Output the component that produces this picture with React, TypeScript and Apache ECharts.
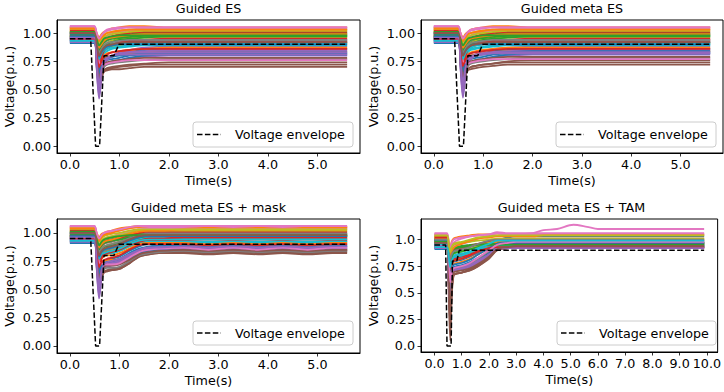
import React, { useEffect, useRef } from 'react';
import * as echarts from 'echarts';

// ---------- Data ----------
const PANEL_TITLES = ['Guided ES', 'Guided meta ES', 'Guided meta ES + mask', 'Guided meta ES + TAM'];
const X_TICKS_SHORT = [0, 1, 2, 3, 4, 5];
const X_TICKS_LONG = [0, 1, 2, 3, 4, 5, 6, 7, 8, 9, 10];
const Y_TICKS = [0, 0.25, 0.5, 0.75, 1.0];
const Y_LABELS_A = ['0.00', '0.25', '0.50', '0.75', '1.00'];
const Y_LABELS_B = ['0.0', '0.25', '0.5', '0.75', '1.0'];

const ENV_T = [0, 0.42, 0.52, 0.6, 0.69, 0.89, 0.99, 5.6];
const ENV_V = [0.95, 0.95, 0, 0, 0.8, 0.8, 0.9, 0.9];
const ENV_T4 = [0, 0.41, 0.46, 0.61, 0.66, 0.82, 0.91, 9.9];
const ENV_V4 = [0.95, 0.95, 0, 0, 0.8, 0.8, 0.9, 0.9];

const T1 = [0, 0.49, 0.54, 0.59, 0.64, 0.69, 0.75, 0.85, 1.0, 1.2, 1.5, 2.0, 3.0, 4.0, 5.6];
const ES_GUIDED = [
  [0.93,0.93,0.80,0.62,0.70,0.74,0.76,0.77,0.78,0.80,0.81,0.82,0.82,0.82,0.82],
  [1.05,1.05,1.00,0.96,0.99,1.01,1.02,1.04,1.05,1.06,1.06,1.05,1.05,1.05,1.05],
  [0.97,0.97,0.90,0.82,0.86,0.89,0.91,0.93,0.95,0.96,0.97,0.97,0.97,0.97,0.97],
  [0.96,0.96,0.86,0.74,0.80,0.84,0.86,0.89,0.91,0.92,0.93,0.94,0.94,0.94,0.94],
  [0.95,0.95,0.70,0.42,0.60,0.72,0.77,0.80,0.83,0.85,0.87,0.88,0.88,0.88,0.88],
  [0.92,0.92,0.75,0.50,0.60,0.66,0.67,0.68,0.68,0.69,0.70,0.70,0.70,0.70,0.70],
  [1.04,1.04,0.97,0.90,0.93,0.96,0.98,1.00,1.02,1.03,1.04,1.04,1.04,1.04,1.04],
  [0.99,0.99,0.92,0.85,0.88,0.91,0.93,0.95,0.97,0.98,0.99,0.99,0.99,0.99,0.99],
  [0.98,0.98,0.88,0.78,0.82,0.85,0.87,0.88,0.89,0.90,0.91,0.91,0.91,0.91,0.91],
  [0.94,0.94,0.85,0.75,0.79,0.82,0.84,0.86,0.87,0.88,0.89,0.89,0.89,0.89,0.89],
  [1.00,1.00,0.85,0.68,0.74,0.77,0.79,0.80,0.81,0.83,0.85,0.86,0.86,0.86,0.86],
  [0.97,0.97,0.84,0.70,0.75,0.78,0.79,0.80,0.81,0.82,0.83,0.84,0.84,0.84,0.84],
  [1.01,1.01,0.95,0.88,0.91,0.94,0.96,0.97,0.98,0.99,1.00,1.00,1.00,1.00,1.00],
  [0.99,0.99,0.93,0.86,0.90,0.93,0.95,0.97,0.99,1.00,1.01,1.01,1.01,1.01,1.01],
  [0.93,0.93,0.72,0.48,0.62,0.70,0.73,0.75,0.76,0.78,0.79,0.80,0.80,0.80,0.80],
  [0.96,0.96,0.75,0.52,0.62,0.66,0.68,0.69,0.70,0.71,0.72,0.72,0.72,0.72,0.72],
  [1.06,1.06,1.00,0.94,0.97,1.00,1.02,1.03,1.04,1.05,1.05,1.05,1.05,1.05,1.05],
  [0.95,0.95,0.87,0.78,0.82,0.86,0.88,0.90,0.91,0.92,0.93,0.93,0.93,0.93,0.93],
  [1.02,1.02,0.92,0.82,0.86,0.89,0.91,0.93,0.94,0.95,0.96,0.96,0.96,0.96,0.96],
  [0.97,0.97,0.86,0.76,0.80,0.84,0.86,0.87,0.88,0.89,0.90,0.90,0.90,0.90,0.90],
  [0.91,0.91,0.78,0.62,0.70,0.72,0.73,0.75,0.76,0.78,0.80,0.81,0.81,0.81,0.81],
  [1.03,1.03,0.88,0.72,0.77,0.80,0.82,0.83,0.84,0.85,0.86,0.87,0.87,0.87,0.87],
  [1.00,1.00,0.93,0.85,0.89,0.92,0.94,0.95,0.96,0.97,0.98,0.98,0.98,0.98,0.98],
  [0.98,0.98,0.84,0.67,0.78,0.85,0.88,0.90,0.92,0.93,0.94,0.95,0.95,0.95,0.95],
  [0.92,0.92,0.70,0.45,0.63,0.72,0.76,0.79,0.81,0.83,0.84,0.85,0.85,0.85,0.85],
  [0.94,0.94,0.74,0.55,0.63,0.67,0.69,0.70,0.71,0.72,0.73,0.74,0.74,0.74,0.74],
  [1.05,1.05,0.96,0.88,0.92,0.95,0.97,0.99,1.01,1.02,1.03,1.03,1.03,1.03,1.03],
  [0.96,0.96,0.78,0.58,0.66,0.70,0.72,0.73,0.74,0.75,0.76,0.77,0.77,0.77,0.77],
  [1.03,1.03,0.96,0.89,0.93,0.96,0.98,0.99,1.00,1.01,1.02,1.02,1.02,1.02,1.02],
  [0.95,0.95,0.87,0.80,0.83,0.86,0.88,0.90,0.91,0.91,0.92,0.92,0.92,0.92,0.92],
  [0.99,0.99,0.83,0.66,0.72,0.76,0.78,0.79,0.80,0.81,0.82,0.83,0.83,0.83,0.83],
  [1.01,1.01,0.94,0.87,0.90,0.93,0.95,0.96,0.97,0.98,0.99,0.99,0.99,0.99,0.99],
  [0.98,0.98,0.90,0.81,0.85,0.88,0.90,0.92,0.94,0.95,0.96,0.97,0.97,0.97,0.97],
  [1.02,1.02,0.90,0.76,0.81,0.85,0.87,0.89,0.91,0.92,0.92,0.92,0.92,0.92,0.92],
  [0.94,0.94,0.74,0.52,0.66,0.74,0.78,0.80,0.82,0.83,0.83,0.83,0.83,0.83,0.83],
  [0.97,0.97,0.80,0.60,0.68,0.72,0.74,0.75,0.76,0.77,0.78,0.78,0.78,0.78,0.78],
  [1.05,1.05,0.90,0.74,0.73,0.72,0.73,0.74,0.75,0.76,0.76,0.76,0.76,0.76,0.76],
  [1.00,1.00,0.91,0.82,0.86,0.89,0.91,0.92,0.93,0.94,0.94,0.94,0.94,0.94,0.94],
  [1.04,1.04,0.98,0.92,0.95,0.98,1.00,1.01,1.02,1.03,1.03,1.03,1.03,1.03,1.03],
  [0.93,0.93,0.85,0.77,0.82,0.85,0.87,0.89,0.90,0.91,0.91,0.91,0.91,0.91,0.91],
  [0.97,0.97,0.88,0.79,0.83,0.86,0.88,0.89,0.90,0.90,0.90,0.90,0.90,0.90,0.90],
  [1.04,1.04,0.98,0.93,0.96,0.98,1.00,1.01,1.02,1.03,1.03,1.03,1.03,1.03,1.03],
  [1.01,1.01,0.95,0.89,0.92,0.95,0.96,0.97,0.98,0.98,0.98,0.98,0.98,0.98,0.98],
  [0.95,0.95,0.83,0.70,0.75,0.79,0.81,0.83,0.84,0.85,0.86,0.86,0.86,0.86,0.86],
  [0.96,0.96,0.76,0.55,0.68,0.75,0.78,0.80,0.81,0.81,0.81,0.81,0.81,0.81,0.81],
  [1.00,1.00,0.90,0.80,0.84,0.87,0.89,0.90,0.91,0.92,0.92,0.92,0.92,0.92,0.92],
  [1.06,1.06,1.00,0.95,0.98,1.01,1.03,1.04,1.05,1.05,1.05,1.05,1.05,1.05,1.05],
];

const ES_META = [
  [0.93,0.93,0.80,0.63,0.71,0.75,0.77,0.78,0.79,0.81,0.82,0.83,0.83,0.83,0.83],
  [1.05,1.05,1.00,0.96,0.99,1.01,1.03,1.04,1.05,1.06,1.06,1.05,1.05,1.05,1.05],
  [0.97,0.97,0.90,0.83,0.87,0.90,0.92,0.94,0.95,0.96,0.97,0.97,0.97,0.97,0.97],
  [0.96,0.96,0.86,0.75,0.81,0.85,0.87,0.89,0.91,0.92,0.93,0.94,0.94,0.94,0.94],
  [0.95,0.95,0.70,0.43,0.61,0.73,0.78,0.81,0.84,0.86,0.87,0.88,0.88,0.88,0.88],
  [0.92,0.92,0.75,0.52,0.62,0.67,0.68,0.69,0.70,0.71,0.72,0.72,0.72,0.72,0.72],
  [1.04,1.04,0.97,0.90,0.93,0.96,0.98,1.00,1.02,1.03,1.04,1.04,1.04,1.04,1.04],
  [0.99,0.99,0.92,0.85,0.88,0.91,0.93,0.95,0.97,0.98,0.99,0.99,0.99,0.99,0.99],
  [0.98,0.98,0.88,0.79,0.83,0.86,0.88,0.89,0.90,0.91,0.91,0.91,0.91,0.91,0.91],
  [0.94,0.94,0.85,0.76,0.80,0.83,0.85,0.86,0.87,0.88,0.89,0.89,0.89,0.89,0.89],
  [1.00,1.00,0.85,0.69,0.75,0.78,0.80,0.81,0.82,0.84,0.85,0.86,0.86,0.86,0.86],
  [0.97,0.97,0.84,0.71,0.76,0.79,0.80,0.81,0.82,0.83,0.84,0.84,0.84,0.84,0.84],
  [1.01,1.01,0.95,0.88,0.91,0.94,0.96,0.97,0.98,0.99,1.00,1.00,1.00,1.00,1.00],
  [0.99,0.99,0.93,0.86,0.90,0.93,0.95,0.97,0.99,1.00,1.01,1.01,1.01,1.01,1.01],
  [0.93,0.93,0.72,0.49,0.63,0.71,0.74,0.76,0.77,0.79,0.80,0.81,0.81,0.81,0.81],
  [0.96,0.96,0.76,0.54,0.63,0.68,0.70,0.71,0.72,0.73,0.74,0.74,0.74,0.74,0.74],
  [1.06,1.06,1.00,0.94,0.97,1.00,1.02,1.03,1.04,1.05,1.05,1.05,1.05,1.05,1.05],
  [0.95,0.95,0.87,0.79,0.83,0.87,0.89,0.91,0.92,0.93,0.93,0.93,0.93,0.93,0.93],
  [1.02,1.02,0.92,0.82,0.86,0.89,0.91,0.93,0.94,0.95,0.96,0.96,0.96,0.96,0.96],
  [0.97,0.97,0.86,0.77,0.81,0.84,0.86,0.87,0.88,0.89,0.90,0.90,0.90,0.90,0.90],
  [0.91,0.91,0.78,0.63,0.71,0.73,0.74,0.76,0.77,0.79,0.81,0.82,0.82,0.82,0.82],
  [1.03,1.03,0.88,0.73,0.78,0.81,0.83,0.84,0.85,0.86,0.87,0.87,0.87,0.87,0.87],
  [1.00,1.00,0.93,0.85,0.89,0.92,0.94,0.95,0.96,0.97,0.98,0.98,0.98,0.98,0.98],
  [0.98,0.98,0.84,0.68,0.79,0.86,0.89,0.91,0.92,0.93,0.94,0.95,0.95,0.95,0.95],
  [0.92,0.92,0.70,0.46,0.64,0.73,0.77,0.80,0.82,0.83,0.84,0.85,0.85,0.85,0.85],
  [0.94,0.94,0.74,0.56,0.64,0.68,0.70,0.71,0.72,0.73,0.75,0.76,0.76,0.76,0.76],
  [1.05,1.05,0.96,0.88,0.92,0.95,0.97,0.99,1.01,1.02,1.03,1.03,1.03,1.03,1.03],
  [0.96,0.96,0.78,0.59,0.67,0.71,0.73,0.74,0.75,0.76,0.77,0.78,0.78,0.78,0.78],
  [1.03,1.03,0.96,0.89,0.93,0.96,0.98,0.99,1.00,1.01,1.02,1.02,1.02,1.02,1.02],
  [0.95,0.95,0.87,0.80,0.83,0.86,0.88,0.90,0.91,0.91,0.92,0.92,0.92,0.92,0.92],
  [0.99,0.99,0.83,0.67,0.73,0.77,0.79,0.80,0.81,0.82,0.83,0.84,0.84,0.84,0.84],
  [1.01,1.01,0.94,0.87,0.90,0.93,0.95,0.96,0.97,0.98,0.99,0.99,0.99,0.99,0.99],
  [0.98,0.98,0.90,0.81,0.85,0.88,0.90,0.92,0.94,0.95,0.96,0.97,0.97,0.97,0.97],
  [1.02,1.02,0.90,0.77,0.82,0.86,0.88,0.90,0.91,0.92,0.92,0.92,0.92,0.92,0.92],
  [0.94,0.94,0.74,0.53,0.67,0.75,0.79,0.81,0.82,0.83,0.83,0.83,0.83,0.83,0.83],
  [0.97,0.97,0.80,0.61,0.69,0.73,0.75,0.76,0.77,0.78,0.79,0.79,0.79,0.79,0.79],
  [1.05,1.05,0.90,0.75,0.74,0.73,0.74,0.75,0.76,0.77,0.77,0.77,0.77,0.77,0.77],
  [1.00,1.00,0.91,0.82,0.86,0.89,0.91,0.92,0.93,0.94,0.94,0.94,0.94,0.94,0.94],
  [1.04,1.04,0.98,0.92,0.95,0.98,1.00,1.01,1.02,1.03,1.03,1.03,1.03,1.03,1.03],
  [0.93,0.93,0.85,0.77,0.82,0.85,0.87,0.89,0.90,0.91,0.91,0.91,0.91,0.91,0.91],
  [0.97,0.97,0.88,0.80,0.84,0.87,0.89,0.90,0.90,0.90,0.90,0.90,0.90,0.90,0.90],
  [1.04,1.04,0.98,0.93,0.96,0.99,1.00,1.01,1.02,1.03,1.03,1.03,1.03,1.03,1.03],
  [1.01,1.01,0.95,0.89,0.92,0.95,0.96,0.97,0.98,0.98,0.98,0.98,0.98,0.98,0.98],
  [0.95,0.95,0.83,0.71,0.76,0.80,0.82,0.83,0.84,0.85,0.86,0.86,0.86,0.86,0.86],
  [0.96,0.96,0.76,0.56,0.69,0.76,0.79,0.80,0.81,0.82,0.82,0.82,0.82,0.82,0.82],
  [1.00,1.00,0.90,0.80,0.84,0.87,0.89,0.90,0.91,0.92,0.92,0.92,0.92,0.92,0.92],
  [1.06,1.06,1.00,0.95,0.98,1.01,1.03,1.04,1.05,1.05,1.05,1.05,1.05,1.05,1.05],
];

const T3 = [0, 0.49, 0.54, 0.59, 0.64, 0.69, 0.75, 0.85, 1.0, 1.2, 1.4, 1.6, 1.8, 2.3, 2.8, 3.3, 3.8, 4.3, 4.8, 5.3, 5.6];
const ES_MASK = [
  [0.93,0.93,0.80,0.62,0.70,0.73,0.74,0.74,0.75,0.79,0.84,0.86,0.87,0.88,0.87,0.88,0.87,0.88,0.87,0.88,0.88],
  [1.05,1.05,1.00,0.96,0.99,1.00,1.01,1.02,1.04,1.05,1.06,1.06,1.06,1.06,1.06,1.06,1.06,1.06,1.05,1.05,1.05],
  [0.97,0.97,0.90,0.82,0.86,0.88,0.89,0.90,0.92,0.95,0.97,0.98,0.98,0.98,0.98,0.98,0.98,0.98,0.98,0.98,0.98],
  [0.96,0.96,0.86,0.74,0.79,0.81,0.82,0.83,0.85,0.89,0.92,0.93,0.93,0.93,0.92,0.93,0.92,0.93,0.92,0.93,0.93],
  [0.95,0.95,0.70,0.42,0.60,0.70,0.73,0.74,0.75,0.79,0.84,0.86,0.87,0.87,0.86,0.87,0.86,0.87,0.86,0.87,0.87],
  [0.92,0.92,0.75,0.50,0.60,0.65,0.66,0.67,0.68,0.73,0.79,0.81,0.82,0.83,0.82,0.83,0.82,0.83,0.82,0.83,0.83],
  [1.04,1.04,0.97,0.90,0.93,0.95,0.96,0.97,0.99,1.01,1.03,1.04,1.04,1.04,1.04,1.04,1.04,1.04,1.04,1.04,1.04],
  [0.99,0.99,0.92,0.85,0.88,0.90,0.91,0.92,0.94,0.97,0.99,1.00,1.00,1.00,1.00,1.00,1.00,1.00,1.00,1.00,1.00],
  [0.98,0.98,0.88,0.78,0.82,0.83,0.84,0.85,0.87,0.91,0.94,0.95,0.95,0.95,0.95,0.95,0.95,0.95,0.95,0.95,0.95],
  [0.94,0.94,0.85,0.75,0.79,0.80,0.81,0.82,0.84,0.88,0.91,0.92,0.92,0.92,0.91,0.92,0.91,0.92,0.91,0.92,0.92],
  [1.00,1.00,0.85,0.68,0.73,0.75,0.76,0.77,0.79,0.84,0.88,0.90,0.90,0.90,0.89,0.90,0.89,0.90,0.89,0.90,0.90],
  [0.97,0.97,0.84,0.70,0.74,0.75,0.76,0.76,0.77,0.81,0.84,0.85,0.85,0.85,0.83,0.85,0.83,0.85,0.83,0.85,0.85],
  [1.01,1.01,0.95,0.88,0.91,0.93,0.94,0.95,0.96,0.98,0.99,0.99,0.99,0.99,0.99,0.99,0.99,0.99,0.99,0.99,0.99],
  [0.99,0.99,0.93,0.86,0.89,0.91,0.92,0.93,0.95,0.98,1.00,1.01,1.01,1.01,1.01,1.01,1.01,1.01,1.01,1.01,1.01],
  [0.93,0.93,0.72,0.48,0.62,0.68,0.70,0.71,0.72,0.77,0.82,0.84,0.85,0.85,0.84,0.85,0.84,0.85,0.84,0.85,0.85],
  [0.96,0.96,0.75,0.52,0.62,0.66,0.67,0.68,0.69,0.74,0.80,0.82,0.83,0.84,0.83,0.84,0.83,0.84,0.83,0.84,0.84],
  [1.06,1.06,1.00,0.94,0.97,0.99,1.00,1.01,1.02,1.04,1.05,1.05,1.05,1.05,1.05,1.05,1.05,1.05,1.05,1.05,1.05],
  [0.95,0.95,0.87,0.78,0.82,0.84,0.85,0.86,0.88,0.92,0.94,0.95,0.95,0.95,0.95,0.95,0.95,0.95,0.95,0.95,0.95],
  [1.02,1.02,0.92,0.82,0.86,0.88,0.89,0.90,0.92,0.95,0.97,0.97,0.97,0.97,0.97,0.97,0.97,0.97,0.97,0.97,0.97],
  [0.97,0.97,0.86,0.76,0.80,0.81,0.82,0.82,0.84,0.88,0.91,0.92,0.92,0.92,0.92,0.92,0.92,0.92,0.92,0.92,0.92],
  [0.91,0.91,0.78,0.62,0.69,0.71,0.72,0.72,0.73,0.77,0.82,0.84,0.85,0.86,0.85,0.86,0.85,0.86,0.85,0.86,0.86],
  [1.03,1.03,0.88,0.72,0.77,0.79,0.80,0.80,0.82,0.86,0.90,0.91,0.91,0.91,0.90,0.91,0.90,0.91,0.90,0.91,0.91],
  [1.00,1.00,0.93,0.85,0.89,0.91,0.92,0.93,0.94,0.96,0.97,0.97,0.97,0.97,0.97,0.97,0.97,0.97,0.97,0.97,0.97],
  [0.98,0.98,0.84,0.67,0.77,0.81,0.82,0.83,0.85,0.89,0.92,0.94,0.94,0.94,0.94,0.94,0.94,0.94,0.94,0.94,0.94],
  [0.92,0.92,0.70,0.45,0.62,0.70,0.73,0.74,0.76,0.80,0.85,0.87,0.88,0.88,0.87,0.88,0.87,0.88,0.87,0.88,0.88],
  [0.94,0.94,0.74,0.55,0.62,0.65,0.66,0.67,0.68,0.73,0.79,0.81,0.82,0.82,0.81,0.82,0.81,0.82,0.81,0.82,0.82],
  [1.05,1.05,0.96,0.88,0.92,0.94,0.95,0.96,0.98,1.01,1.03,1.04,1.04,1.04,1.04,1.04,1.04,1.04,1.04,1.04,1.04],
  [0.96,0.96,0.78,0.58,0.65,0.68,0.69,0.69,0.70,0.75,0.80,0.82,0.83,0.84,0.83,0.84,0.83,0.84,0.83,0.84,0.84],
  [1.03,1.03,0.96,0.89,0.93,0.95,0.96,0.97,0.98,1.00,1.02,1.02,1.02,1.02,1.02,1.02,1.02,1.02,1.02,1.02,1.02],
  [0.95,0.95,0.87,0.80,0.83,0.85,0.86,0.87,0.89,0.92,0.95,0.96,0.96,0.96,0.96,0.96,0.96,0.96,0.96,0.96,0.96],
  [0.99,0.99,0.83,0.66,0.71,0.73,0.74,0.75,0.77,0.82,0.86,0.88,0.89,0.89,0.88,0.89,0.88,0.89,0.88,0.89,0.89],
  [1.01,1.01,0.94,0.87,0.90,0.92,0.93,0.94,0.96,0.99,1.01,1.02,1.02,1.03,1.03,1.03,1.03,1.03,1.03,1.03,1.03],
  [0.98,0.98,0.90,0.81,0.85,0.87,0.88,0.89,0.91,0.94,0.96,0.97,0.97,0.97,0.97,0.97,0.97,0.97,0.97,0.97,0.97],
  [1.02,1.02,0.90,0.76,0.80,0.82,0.83,0.84,0.86,0.90,0.93,0.95,0.95,0.96,0.96,0.96,0.96,0.96,0.96,0.96,0.96],
  [0.94,0.94,0.74,0.52,0.65,0.70,0.72,0.73,0.74,0.79,0.84,0.86,0.86,0.86,0.85,0.86,0.85,0.86,0.85,0.86,0.86],
  [0.97,0.97,0.80,0.60,0.67,0.70,0.71,0.71,0.72,0.76,0.81,0.83,0.84,0.85,0.84,0.85,0.84,0.85,0.84,0.85,0.85],
  [1.05,1.05,0.90,0.74,0.73,0.72,0.72,0.72,0.73,0.78,0.83,0.85,0.86,0.87,0.85,0.87,0.85,0.87,0.85,0.87,0.87],
  [1.00,1.00,0.91,0.82,0.86,0.88,0.89,0.90,0.92,0.95,0.98,0.99,0.99,0.99,0.99,0.99,0.99,0.99,0.99,0.99,0.99],
  [1.04,1.04,0.98,0.92,0.95,0.97,0.98,0.99,1.00,1.02,1.03,1.03,1.03,1.03,1.03,1.03,1.03,1.03,1.03,1.03,1.03],
  [0.93,0.93,0.85,0.77,0.81,0.82,0.83,0.84,0.86,0.90,0.93,0.94,0.94,0.94,0.94,0.94,0.94,0.94,0.94,0.94,0.94],
  [0.97,0.97,0.88,0.79,0.83,0.85,0.86,0.87,0.89,0.93,0.96,0.97,0.97,0.97,0.97,0.97,0.97,0.97,0.97,0.97,0.97],
  [1.04,1.04,0.98,0.93,0.96,0.98,0.99,1.00,1.02,1.04,1.05,1.06,1.06,1.06,1.05,1.06,1.05,1.06,1.05,1.05,1.05],
  [1.01,1.01,0.95,0.89,0.92,0.94,0.95,0.96,0.97,0.98,0.98,0.98,0.98,0.98,0.98,0.98,0.98,0.98,0.98,0.98,0.98],
  [0.95,0.95,0.83,0.70,0.74,0.76,0.77,0.78,0.80,0.85,0.89,0.90,0.90,0.90,0.89,0.90,0.89,0.90,0.89,0.90,0.90],
  [0.96,0.96,0.76,0.55,0.67,0.72,0.74,0.75,0.77,0.81,0.85,0.87,0.87,0.88,0.87,0.88,0.87,0.88,0.87,0.88,0.88],
  [1.00,1.00,0.90,0.80,0.84,0.86,0.87,0.88,0.90,0.94,0.97,0.98,0.98,0.98,0.98,0.98,0.98,0.98,0.98,0.98,0.98],
  [1.06,1.06,1.00,0.95,0.98,1.00,1.01,1.02,1.03,1.05,1.06,1.06,1.06,1.06,1.06,1.06,1.06,1.06,1.06,1.06,1.06],
];

const T4 = [0, 0.45, 0.52, 0.58, 0.63, 0.7, 0.8, 1.0, 1.3, 1.6, 2.0, 2.3, 2.7, 3.0, 3.6, 4.0, 4.5, 5.1, 5.6, 6.0, 7.0, 8.0, 9.0, 9.9];
const ES_TAM = [
  [0.93,0.93,0.80,0.55,0.70,0.74,0.75,0.76,0.79,0.83,0.89,0.93,0.94,0.94,0.94,0.94,0.94,0.94,0.94,0.94,0.94,0.94,0.94,0.94],
  [1.05,1.05,0.98,0.92,0.98,1.01,1.02,1.03,1.04,1.05,1.05,1.06,1.05,1.05,1.05,1.05,1.05,1.05,1.05,1.05,1.05,1.05,1.05,1.05],
  [0.97,0.97,0.88,0.78,0.84,0.87,0.88,0.89,0.91,0.93,0.95,0.96,0.96,0.96,0.96,0.96,0.96,0.96,0.96,0.96,0.96,0.96,0.96,0.96],
  [0.96,0.96,0.85,0.70,0.78,0.81,0.82,0.83,0.85,0.88,0.91,0.93,0.93,0.93,0.93,0.93,0.93,0.93,0.93,0.93,0.93,0.93,0.93,0.93],
  [0.95,0.95,0.60,0.20,0.55,0.70,0.72,0.73,0.76,0.80,0.87,0.92,0.93,0.93,0.93,0.93,0.93,0.93,0.93,0.93,0.93,0.93,0.93,0.93],
  [0.92,0.92,0.50,0.05,0.45,0.66,0.68,0.69,0.72,0.76,0.84,0.91,0.92,0.92,0.92,0.92,0.92,0.92,0.92,0.92,0.92,0.92,0.92,0.92],
  [1.04,1.04,0.96,0.88,0.94,0.97,0.99,1.01,1.03,1.04,1.05,1.06,1.05,1.05,1.06,1.09,1.10,1.14,1.12,1.10,1.10,1.10,1.10,1.10],
  [0.99,0.99,0.90,0.80,0.86,0.89,0.90,0.91,0.93,0.95,0.97,0.98,0.98,0.98,0.98,0.98,0.98,0.98,0.98,0.98,0.98,0.98,0.98,0.98],
  [0.98,0.98,0.87,0.74,0.80,0.83,0.84,0.85,0.87,0.90,0.94,0.96,0.97,0.97,0.97,0.97,0.97,0.97,0.97,0.97,0.97,0.97,0.97,0.97],
  [0.94,0.94,0.84,0.72,0.78,0.81,0.82,0.83,0.86,0.90,0.94,0.97,0.98,0.98,0.98,0.98,0.98,0.98,0.98,0.98,0.98,0.98,0.98,0.98],
  [1.00,1.00,0.86,0.68,0.76,0.79,0.80,0.81,0.84,0.88,0.94,0.99,1.02,1.03,1.03,1.03,1.03,1.03,1.03,1.03,1.03,1.03,1.03,1.03],
  [0.97,0.97,0.84,0.66,0.74,0.77,0.78,0.79,0.82,0.86,0.92,0.95,0.96,0.96,0.96,0.96,0.96,0.96,0.96,0.96,0.96,0.96,0.96,0.96],
  [1.01,1.01,0.93,0.84,0.89,0.92,0.93,0.94,0.95,0.96,0.97,0.97,0.97,0.97,0.97,0.97,0.97,0.97,0.97,0.97,0.97,0.97,0.97,0.97],
  [0.99,0.99,0.91,0.82,0.87,0.90,0.91,0.92,0.94,0.96,0.98,0.99,0.99,0.99,0.99,0.99,0.99,0.99,0.99,0.99,0.99,0.99,0.99,0.99],
  [0.93,0.93,0.62,0.30,0.58,0.70,0.71,0.72,0.74,0.78,0.85,0.91,0.92,0.92,0.92,0.92,0.92,0.92,0.92,0.92,0.92,0.92,0.92,0.92],
  [0.96,0.96,0.60,0.15,0.50,0.67,0.68,0.69,0.71,0.75,0.83,0.90,0.92,0.93,0.93,0.93,0.93,0.93,0.93,0.93,0.93,0.93,0.93,0.93],
  [1.06,1.06,0.99,0.92,0.97,1.00,1.01,1.02,1.03,1.04,1.05,1.07,1.06,1.06,1.06,1.06,1.06,1.06,1.06,1.06,1.06,1.06,1.06,1.06],
  [0.95,0.95,0.86,0.75,0.81,0.84,0.85,0.86,0.88,0.91,0.94,0.95,0.95,0.95,0.95,0.95,0.95,0.95,0.95,0.95,0.95,0.95,0.95,0.95],
  [1.02,1.02,0.91,0.78,0.84,0.87,0.88,0.89,0.91,0.94,0.97,0.99,1.00,1.00,1.00,1.00,1.00,1.00,1.00,1.00,1.00,1.00,1.00,1.00],
  [0.97,0.97,0.86,0.73,0.79,0.82,0.83,0.84,0.86,0.90,0.94,0.96,0.97,0.97,0.97,0.97,0.97,0.97,0.97,0.97,0.97,0.97,0.97,0.97],
  [0.91,0.91,0.78,0.58,0.70,0.73,0.74,0.75,0.78,0.82,0.88,0.93,0.95,0.95,0.95,0.95,0.95,0.95,0.95,0.95,0.95,0.95,0.95,0.95],
  [1.03,1.03,0.88,0.70,0.77,0.80,0.81,0.82,0.85,0.89,0.94,0.98,1.00,1.01,1.01,1.01,1.01,1.01,1.01,1.01,1.01,1.01,1.01,1.01],
  [1.00,1.00,0.92,0.82,0.88,0.91,0.92,0.93,0.94,0.95,0.96,0.96,0.96,0.96,0.96,0.96,0.96,0.96,0.96,0.96,0.96,0.96,0.96,0.96],
  [0.98,0.98,0.84,0.64,0.76,0.80,0.81,0.82,0.85,0.89,0.93,0.96,0.97,0.97,0.97,0.97,0.97,0.97,0.97,0.97,0.97,0.97,0.97,0.97],
  [0.92,0.92,0.64,0.35,0.60,0.71,0.72,0.73,0.75,0.79,0.86,0.92,0.94,0.94,0.94,0.94,0.94,0.94,0.94,0.94,0.94,0.94,0.94,0.94],
  [0.94,0.94,0.62,0.25,0.52,0.67,0.68,0.69,0.71,0.75,0.82,0.90,0.93,0.93,0.93,0.93,0.93,0.93,0.93,0.93,0.93,0.93,0.93,0.93],
  [1.05,1.05,0.95,0.85,0.91,0.94,0.95,0.96,0.98,1.01,1.04,1.06,1.05,1.05,1.05,1.05,1.05,1.05,1.05,1.05,1.05,1.05,1.05,1.05],
  [0.96,0.96,0.80,0.55,0.68,0.72,0.73,0.74,0.77,0.82,0.89,0.94,0.95,0.95,0.95,0.95,0.95,0.95,0.95,0.95,0.95,0.95,0.95,0.95],
  [1.03,1.03,0.95,0.86,0.92,0.95,0.96,0.97,0.98,0.99,1.00,1.01,1.01,1.01,1.01,1.01,1.01,1.01,1.01,1.01,1.01,1.01,1.01,1.01],
  [0.95,0.95,0.86,0.76,0.82,0.85,0.86,0.87,0.89,0.91,0.93,0.94,0.94,0.94,0.94,0.94,0.94,0.94,0.94,0.94,0.94,0.94,0.94,0.94],
  [0.99,0.99,0.83,0.62,0.72,0.76,0.77,0.78,0.81,0.86,0.92,0.96,0.97,0.97,0.97,0.97,0.97,0.97,0.97,0.97,0.97,0.97,0.97,0.97],
  [1.01,1.01,0.93,0.84,0.89,0.92,0.94,0.96,0.99,1.01,1.02,1.03,1.03,1.03,1.03,1.04,1.04,1.04,1.04,1.04,1.04,1.04,1.04,1.04],
  [0.98,0.98,0.89,0.78,0.84,0.87,0.88,0.89,0.91,0.93,0.95,0.95,0.95,0.95,0.95,0.95,0.95,0.95,0.95,0.95,0.95,0.95,0.95,0.95],
  [1.02,1.02,0.89,0.72,0.79,0.82,0.83,0.84,0.86,0.89,0.92,0.93,0.93,0.93,0.93,0.93,0.93,0.93,0.93,0.93,0.93,0.93,0.93,0.93],
  [0.94,0.94,0.66,0.40,0.62,0.71,0.72,0.73,0.76,0.80,0.86,0.91,0.92,0.92,0.92,0.92,0.92,0.92,0.92,0.92,0.92,0.92,0.92,0.92],
  [0.97,0.97,0.70,0.30,0.56,0.69,0.70,0.71,0.73,0.77,0.84,0.91,0.93,0.94,0.94,0.94,0.94,0.94,0.94,0.94,0.94,0.94,0.94,0.94],
  [1.05,1.05,0.88,0.60,0.70,0.73,0.74,0.75,0.78,0.83,0.90,0.95,0.97,0.98,0.98,0.98,0.98,0.98,0.98,0.98,0.98,0.98,0.98,0.98],
  [1.00,1.00,0.91,0.80,0.86,0.89,0.90,0.91,0.93,0.96,0.99,1.00,1.00,1.00,1.00,1.00,1.00,1.00,1.00,1.00,1.00,1.00,1.00,1.00],
  [1.04,1.04,0.96,0.88,0.93,0.96,0.97,0.98,1.00,1.02,1.03,1.04,1.04,1.04,1.04,1.04,1.04,1.04,1.04,1.04,1.04,1.04,1.04,1.04],
  [0.93,0.93,0.84,0.74,0.80,0.83,0.84,0.85,0.88,0.92,0.96,0.99,0.99,0.99,0.99,0.99,0.99,0.99,0.99,0.99,0.99,0.99,0.99,0.99],
];

// ---------- Styling / layout ----------
const TAB10 = ['#1f77b4', '#ff7f0e', '#2ca02c', '#d62728', '#9467bd', '#8c564b', '#e377c2', '#7f7f7f', '#bcbd22', '#17becf'];
const FONT = 'DejaVu Sans';
const FS = 12.7;

const GRIDS = [
  { left: 57, top: 20, width: 303, height: 133 },
  { left: 421, top: 20, width: 302, height: 133 },
  { left: 57, top: 219, width: 303, height: 134 },
  { left: 421, top: 219, width: 301, height: 133 },
];
const X_RANGES = [[-0.26, 5.86], [-0.26, 5.86], [-0.26, 5.86], [-0.495, 10.395]];
const Y_RANGES = [[-0.06, 1.115], [-0.06, 1.115], [-0.062, 1.122], [-0.057, 1.194]];

const PANELS = [
  { t: T1, rows: ES_GUIDED, envT: ENV_T, envV: ENV_V, xt: X_TICKS_SHORT, yl: Y_LABELS_A },
  { t: T1, rows: ES_META, envT: ENV_T, envV: ENV_V, xt: X_TICKS_SHORT, yl: Y_LABELS_A },
  { t: T3, rows: ES_MASK, envT: ENV_T, envV: ENV_V, xt: X_TICKS_SHORT, yl: Y_LABELS_A },
  { t: T4, rows: ES_TAM, envT: ENV_T4, envV: ENV_V4, xt: X_TICKS_LONG, yl: Y_LABELS_B },
];

function buildOption() {
  const textStyle = { fontFamily: FONT, fontSize: FS, color: '#000' };
  const grid = GRIDS.map((g) => ({ ...g, show: true, borderColor: '#000', borderWidth: 1, backgroundColor: '#fff' }));
  const xAxis = PANELS.map((p, i) => ({
    type: 'value', gridIndex: i, min: X_RANGES[i][0], max: X_RANGES[i][1],
    name: 'Time(s)', nameLocation: 'middle', nameGap: 21,
    nameTextStyle: { ...textStyle },
    axisLine: { show: true, onZero: false, lineStyle: { color: '#000', width: 1 } },
    axisTick: { show: true, inside: false, length: 3.5, customValues: p.xt, lineStyle: { color: '#000', width: 0.8 } },
    axisLabel: { ...textStyle, margin: 5, customValues: p.xt, formatter: (v: number) => v.toFixed(1) },
    splitLine: { show: false },
  }));
  const yAxis = PANELS.map((p, i) => ({
    type: 'value', gridIndex: i, min: Y_RANGES[i][0], max: Y_RANGES[i][1],
    name: 'Voltage(p.u.)', nameLocation: 'middle', nameGap: 41,
    nameTextStyle: { ...textStyle },
    axisLine: { show: true, onZero: false, lineStyle: { color: '#000', width: 1 } },
    axisTick: { show: true, inside: false, length: 3.5, customValues: Y_TICKS, lineStyle: { color: '#000', width: 0.8 } },
    axisLabel: {
      ...textStyle, margin: 6, customValues: Y_TICKS,
      formatter: (v: number) => {
        const k = Y_TICKS.findIndex((t) => Math.abs(t - v) < 1e-6);
        return k >= 0 ? p.yl[k] : '';
      },
    },
    splitLine: { show: false },
  }));
  const series: any[] = [];
  PANELS.forEach((p, i) => {
    p.rows.forEach((row, j) => {
      const c = TAB10[j % 10];
      series.push({
        type: 'line', xAxisIndex: i, yAxisIndex: i, name: 'bus' + (j + 1),
        data: row.map((v, k) => [p.t[k], v]),
        showSymbol: false, symbol: 'none', smooth: 0.3, silent: true,
        lineStyle: { width: 1.8, color: c }, itemStyle: { color: c }, z: 2,
      });
    });
    series.push({
      type: 'line', xAxisIndex: i, yAxisIndex: i, name: 'Voltage envelope',
      data: p.envT.map((t, k) => [t, p.envV[k]]),
      showSymbol: false, symbol: 'none', silent: true,
      lineStyle: { width: 1.5, color: '#000', type: [5.5, 2.4] }, itemStyle: { color: '#000' }, z: 5,
    });
  });
  const title = PANEL_TITLES.map((txt, i) => ({
    text: txt, left: GRIDS[i].left + GRIDS[i].width / 2, top: GRIDS[i].top - 18, textAlign: 'center', padding: 0,
    textStyle: { ...textStyle, fontWeight: 'normal' },
  }));
  const legendBoxes = [
    { x: 193, y: 122, w: 160, h: 25 },
    { x: 556, y: 122, w: 160, h: 25 },
    { x: 193, y: 321, w: 160, h: 24 },
    { x: 557, y: 321, w: 159, h: 24 },
  ];
  const graphic: any[] = [];
  legendBoxes.forEach((b) => {
    const cy = b.y + b.h / 2;
    graphic.push({ type: 'rect', z: 100, shape: { x: b.x, y: b.y, width: b.w, height: b.h, r: 3 }, style: { fill: 'rgba(255,255,255,0.8)', stroke: '#cccccc', lineWidth: 1 } });
    graphic.push({ type: 'line', z: 101, shape: { x1: b.x + 4, y1: cy, x2: b.x + 28, y2: cy }, style: { stroke: '#000', lineWidth: 1.5, lineDash: [5.5, 2.4] } });
    graphic.push({ type: 'text', z: 101, x: b.x + 42, y: cy, style: { text: 'Voltage envelope', fontFamily: FONT, fontSize: FS, fill: '#000', verticalAlign: 'middle', align: 'left' } });
  });
  return { animation: false, backgroundColor: '#fff', textStyle, title, grid, xAxis, yAxis, series, graphic };
}

export default function App() {
  const ref = useRef<HTMLDivElement>(null);
  useEffect(() => {
    const chart = echarts.init(ref.current!, null, { renderer: 'svg' });
    chart.setOption(buildOption() as any);
    return () => chart.dispose();
  }, []);
  return <div ref={ref} style={{ position: 'fixed', left: 0, top: 0, width: 724, height: 392 }} />;
}
